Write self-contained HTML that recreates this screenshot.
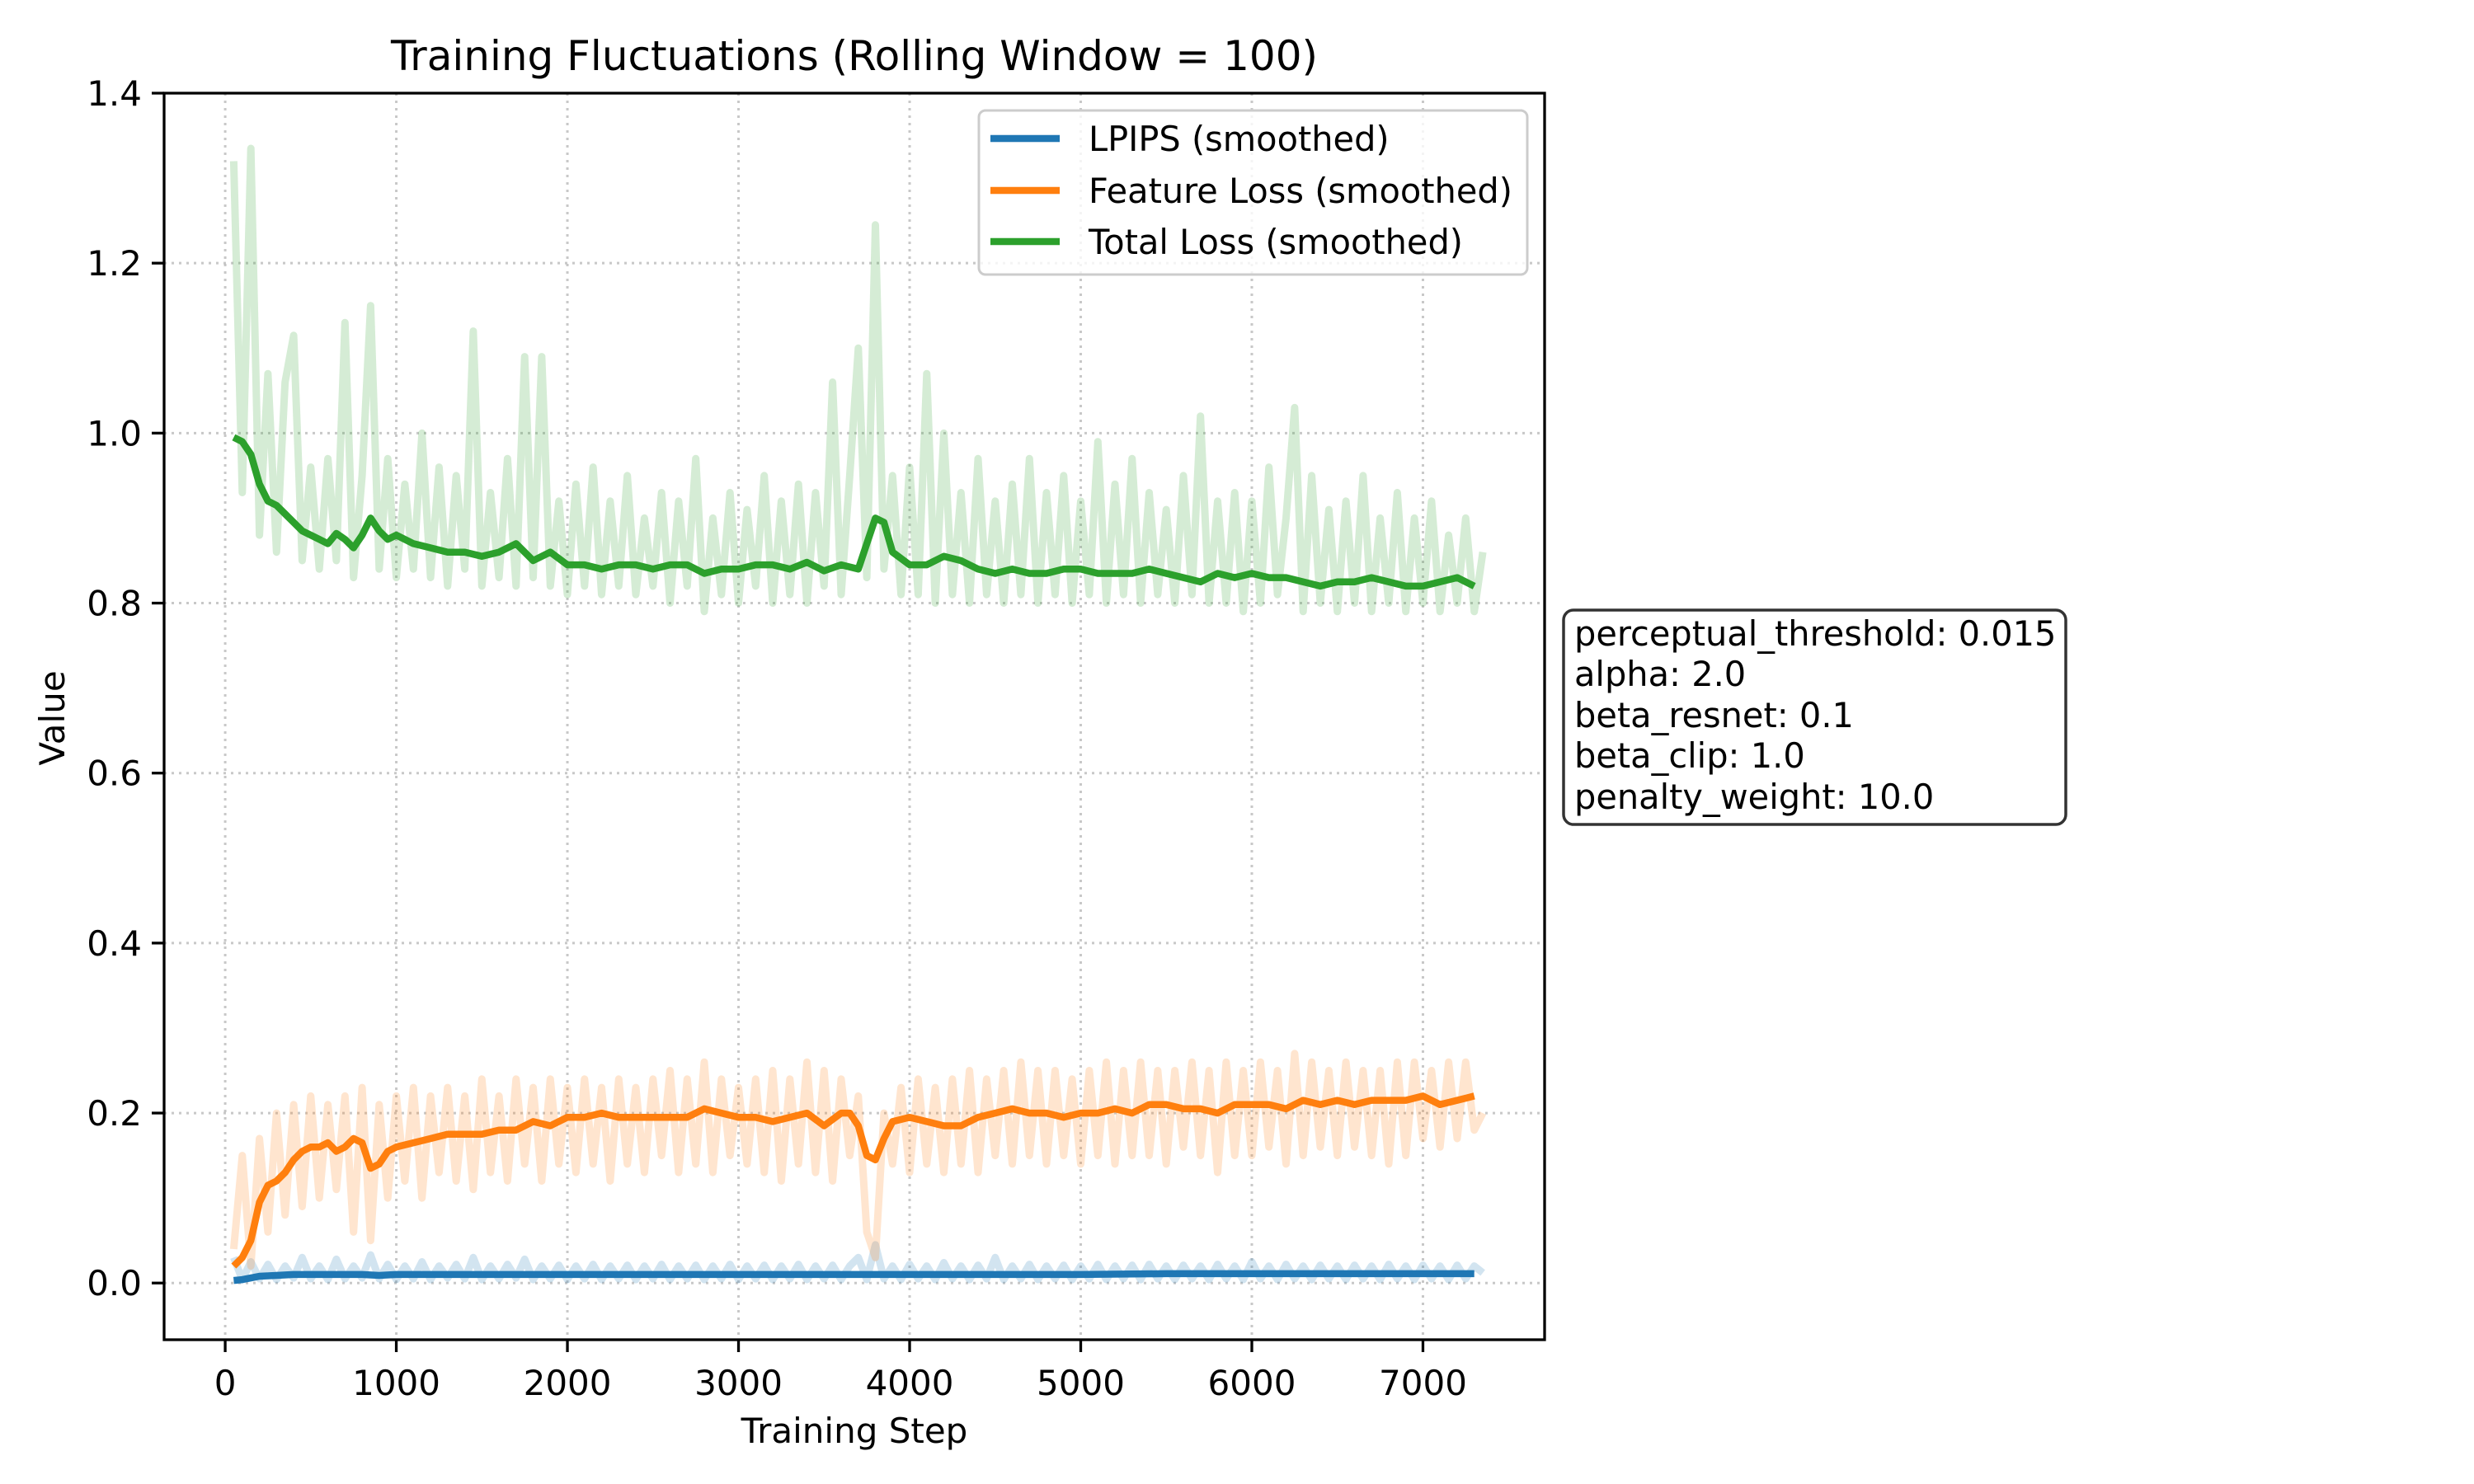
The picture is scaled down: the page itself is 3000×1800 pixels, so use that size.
<!DOCTYPE html>
<html><head><meta charset="utf-8"><style>
html,body{margin:0;padding:0;background:#fff}
svg{display:block;font-family:"DejaVu Sans","Liberation Sans",sans-serif}
</style></head><body>
<svg id="chart" width="3000" height="1800" viewBox="0 0 3000 1800" xmlns="http://www.w3.org/2000/svg">
<rect width="3000" height="1800" fill="#fff"/>
<g id="grid"></g>
<g id="plot"></g>
<g id="axes"></g>
<text x="1036" y="85" font-size="50" text-anchor="middle">Training Fluctuations (Rolling Window = 100)</text>
<text x="1036" y="1750" font-size="42" text-anchor="middle">Training Step</text>
<text transform="translate(78,871) rotate(-90)" font-size="42" text-anchor="middle">Value</text>
<g>
<rect x="1187" y="134" width="665" height="199" rx="8" fill="#fff" fill-opacity="0.8" stroke="#ccc" stroke-width="3"/>
<line x1="1201" y1="168" x2="1285" y2="168" stroke="#1f77b4" stroke-width="8.5"/>
<text x="1320" y="183" font-size="41.5">LPIPS (smoothed)</text>
<line x1="1201" y1="231" x2="1285" y2="231" stroke="#ff7f0e" stroke-width="8.5"/>
<text x="1320" y="246" font-size="41.5">Feature Loss (smoothed)</text>
<line x1="1201" y1="293" x2="1285" y2="293" stroke="#2ca02c" stroke-width="8.5"/>
<text x="1320" y="308" font-size="41.5">Total Loss (smoothed)</text>
</g>
<g>
<rect x="1896" y="740" width="609" height="260" rx="12" fill="#fff" stroke="#333" stroke-width="3.5"/>
<text font-size="41.5">
<tspan x="1909" y="783">perceptual_threshold: 0.015</tspan>
<tspan x="1909" y="832">alpha: 2.0</tspan>
<tspan x="1909" y="882">beta_resnet: 0.1</tspan>
<tspan x="1909" y="931">beta_clip: 1.0</tspan>
<tspan x="1909" y="981">penalty_weight: 10.0</tspan>
</text>
</g>
</svg>
<script>
const xTicks=[0,1000,2000,3000,4000,5000,6000,7000];
const yTicks=[0.0,0.2,0.4,0.6,0.8,1.0,1.2,1.4];
const yTickLabels=["0.0","0.2","0.4","0.6","0.8","1.0","1.2","1.4"];
const rawStart=50, rawStep=50;
const totalRaw=[1.32,0.93,1.335,0.88,1.07,0.86,1.06,1.115,0.85,0.96,
0.84,0.97,0.85,1.13,0.83,0.95,1.15,0.84,0.97,0.83,
0.94,0.84,1.0,0.83,0.96,0.82,0.95,0.84,1.12,0.82,
0.93,0.83,0.97,0.82,1.09,0.83,1.09,0.82,0.92,0.81,
0.94,0.82,0.96,0.81,0.92,0.82,0.95,0.81,0.9,0.82,
0.93,0.8,0.92,0.82,0.97,0.79,0.9,0.81,0.93,0.8,
0.91,0.82,0.95,0.8,0.92,0.81,0.94,0.8,0.93,0.82,
1.06,0.81,0.95,1.1,0.83,1.245,0.84,0.95,0.81,0.96,
0.81,1.07,0.8,1.0,0.81,0.93,0.8,0.97,0.81,0.92,
0.8,0.94,0.81,0.97,0.8,0.93,0.81,0.95,0.8,0.92,
0.81,0.99,0.8,0.94,0.81,0.97,0.8,0.93,0.81,0.91,
0.8,0.95,0.81,1.02,0.8,0.92,0.8,0.93,0.79,0.92,
0.8,0.96,0.81,0.9,1.03,0.79,0.95,0.8,0.91,0.79,
0.92,0.8,0.95,0.79,0.9,0.8,0.93,0.79,0.9,0.8,
0.92,0.79,0.88,0.8,0.9,0.79,0.86];
const featureRaw=[0.04,0.15,0.02,0.17,0.06,0.2,0.08,0.21,0.09,0.22,
0.1,0.21,0.11,0.22,0.06,0.23,0.05,0.21,0.1,0.22,
0.12,0.23,0.1,0.22,0.13,0.23,0.12,0.22,0.11,0.24,
0.13,0.22,0.12,0.24,0.14,0.23,0.12,0.24,0.14,0.23,
0.13,0.24,0.14,0.23,0.12,0.24,0.14,0.23,0.13,0.24,
0.15,0.25,0.13,0.24,0.14,0.26,0.13,0.24,0.15,0.23,
0.14,0.24,0.13,0.25,0.12,0.24,0.14,0.26,0.13,0.25,
0.12,0.24,0.15,0.22,0.06,0.03,0.2,0.14,0.23,0.13,
0.24,0.14,0.23,0.13,0.24,0.14,0.25,0.13,0.24,0.15,
0.25,0.14,0.26,0.15,0.25,0.14,0.25,0.15,0.24,0.14,
0.25,0.15,0.26,0.14,0.25,0.15,0.26,0.15,0.25,0.14,
0.25,0.16,0.26,0.15,0.25,0.13,0.26,0.15,0.25,0.15,
0.26,0.16,0.25,0.14,0.27,0.15,0.26,0.16,0.25,0.15,
0.26,0.16,0.25,0.15,0.25,0.14,0.26,0.15,0.26,0.17,
0.25,0.16,0.26,0.17,0.26,0.18,0.2];
const lpipsRaw=[0.03,0.004,0.025,0.005,0.022,0.004,0.02,0.006,0.03,0.005,
0.02,0.004,0.028,0.005,0.02,0.006,0.033,0.005,0.022,0.004,
0.02,0.005,0.025,0.004,0.02,0.006,0.022,0.005,0.03,0.004,
0.02,0.005,0.022,0.006,0.028,0.004,0.02,0.005,0.021,0.004,
0.02,0.005,0.022,0.004,0.02,0.005,0.021,0.004,0.02,0.005,
0.022,0.004,0.02,0.005,0.021,0.004,0.02,0.005,0.022,0.004,
0.02,0.005,0.021,0.004,0.02,0.005,0.022,0.004,0.02,0.005,
0.021,0.004,0.02,0.03,0.004,0.045,0.005,0.02,0.004,0.022,
0.005,0.02,0.004,0.024,0.005,0.02,0.004,0.021,0.005,0.03,
0.004,0.02,0.005,0.022,0.004,0.02,0.005,0.021,0.004,0.02,
0.005,0.022,0.004,0.02,0.005,0.021,0.004,0.022,0.005,0.02,
0.004,0.021,0.005,0.02,0.004,0.022,0.005,0.02,0.004,0.025,
0.005,0.02,0.004,0.022,0.005,0.02,0.004,0.021,0.005,0.02,
0.004,0.021,0.005,0.02,0.004,0.022,0.005,0.02,0.004,0.021,
0.005,0.02,0.004,0.021,0.005,0.02,0.012];
const totalSteps=[50,100,150,200,250,300,350,400,450,500,550,600,650,700,750,800,850,900,950,1000,1100,1200,1300,1400,1500,1600,1700,1800,1900,2000,2100,2200,2300,2400,2500,2600,2700,2800,2900,3000,3100,3200,3300,3400,3500,3600,3700,3750,3800,3850,3900,4000,4100,4200,4300,4400,4500,4600,4700,4800,4900,5000,5100,5200,5300,5400,5500,5600,5700,5800,5900,6000,6100,6200,6300,6400,6500,6600,6700,6800,6900,7000,7100,7200,7300];
const totalSmooth=[0.995,0.99,0.975,0.94,0.92,0.915,0.905,0.895,0.885,0.88,0.875,0.87,0.882,0.875,0.865,0.88,0.9,0.885,0.875,0.88,0.87,0.865,0.86,0.86,0.855,0.86,0.87,0.85,0.86,0.845,0.845,0.84,0.845,0.845,0.84,0.845,0.845,0.835,0.84,0.84,0.845,0.845,0.84,0.848,0.838,0.845,0.84,0.87,0.9,0.895,0.86,0.845,0.845,0.855,0.85,0.84,0.835,0.84,0.835,0.835,0.84,0.84,0.835,0.835,0.835,0.84,0.835,0.83,0.825,0.835,0.83,0.835,0.83,0.83,0.825,0.82,0.825,0.825,0.83,0.825,0.82,0.82,0.825,0.83,0.82];
const featureSteps=[50,100,150,200,250,300,350,400,450,500,550,600,650,700,750,800,850,900,950,1000,1100,1200,1300,1400,1500,1600,1700,1800,1900,2000,2100,2200,2300,2400,2500,2600,2700,2800,2900,3000,3100,3200,3300,3400,3500,3600,3650,3700,3750,3800,3850,3900,4000,4100,4200,4300,4400,4500,4600,4700,4800,4900,5000,5100,5200,5300,5400,5500,5600,5700,5800,5900,6000,6100,6200,6300,6400,6500,6600,6700,6800,6900,7000,7100,7200,7300];
const featureSmooth=[0.02,0.03,0.05,0.095,0.115,0.12,0.13,0.145,0.155,0.16,0.16,0.165,0.155,0.16,0.17,0.165,0.135,0.14,0.155,0.16,0.165,0.17,0.175,0.175,0.175,0.18,0.18,0.19,0.185,0.195,0.195,0.2,0.195,0.195,0.195,0.195,0.195,0.205,0.2,0.195,0.195,0.19,0.195,0.2,0.185,0.2,0.2,0.185,0.15,0.145,0.17,0.19,0.195,0.19,0.185,0.185,0.195,0.2,0.205,0.2,0.2,0.195,0.2,0.2,0.205,0.2,0.21,0.21,0.205,0.205,0.2,0.21,0.21,0.21,0.205,0.215,0.21,0.215,0.21,0.215,0.215,0.215,0.22,0.21,0.215,0.22];
const lpipsSteps=[50,100,150,200,300,400,600,800,900,1000,1500,2000,2500,3000,3500,3800,4000,4500,5000,5500,6000,6500,7000,7300];
const lpipsSmooth=[0.003,0.004,0.006,0.008,0.009,0.01,0.01,0.01,0.009,0.01,0.01,0.01,0.01,0.01,0.01,0.01,0.01,0.01,0.01,0.011,0.011,0.011,0.011,0.011];

const NS="http://www.w3.org/2000/svg";
const L=199,R=1873,T=113,B=1625;
const xMin=-357,xMax=7711,yMin=-0.0667,yMax=1.4;
function xs(v){return L+(v-xMin)/(xMax-xMin)*(R-L);}
function ys(v){return B-(v-yMin)/(yMax-yMin)*(B-T);}
function mk(tag,attrs,parent){const e=document.createElementNS(NS,tag);for(const k in attrs)e.setAttribute(k,attrs[k]);parent.appendChild(e);return e;}
const grid=document.getElementById('grid'),plot=document.getElementById('plot'),axes=document.getElementById('axes');
xTicks.forEach(function(t){
  const g=mk('line',{x1:xs(t),x2:xs(t),y1:T,y2:B,stroke:'#b0b0b0','stroke-width':3,'stroke-dasharray':'3,6','stroke-opacity':0.7},grid);
  
  
  const tk=mk('line',{x1:xs(t),x2:xs(t),y1:B,y2:B+15,stroke:'#000','stroke-width':3.3},axes);
  
  
  const lb=mk('text',{x:xs(t),y:B+67,'font-size':42,'text-anchor':'middle'},axes);
  lb.textContent=String(t);
  
  
});
yTicks.forEach(function(t,i){
  const g=mk('line',{x1:L,x2:R,y1:ys(t),y2:ys(t),stroke:'#b0b0b0','stroke-width':3,'stroke-dasharray':'3,6','stroke-opacity':0.7},grid);
  
  
  const tk=mk('line',{x1:L-15,x2:L,y1:ys(t),y2:ys(t),stroke:'#000','stroke-width':3.3},axes);
  
  
  const lb=mk('text',{x:L-27,y:ys(t)+15,'font-size':42,'text-anchor':'end'},axes);
  lb.textContent=yTickLabels[i];
  
  
});
const frame=mk('rect',{x:L,y:T,width:R-L,height:B-T,fill:'none',stroke:'#000','stroke-width':3.3},axes);


function rawPath(arr){return arr.map(function(v,i){return (i?'L':'M')+xs(rawStart+i*rawStep).toFixed(1)+' '+ys(v).toFixed(1);}).join('');}
function smPath(st,arr){return arr.map(function(v,i){return (i?'L':'M')+xs(st[i]).toFixed(1)+' '+ys(v).toFixed(1);}).join('');}
const r1=mk('path',{d:rawPath(lpipsRaw),fill:'none',stroke:'#1f77b4','stroke-opacity':0.2,'stroke-width':9,'stroke-linejoin':'round'},plot);


const r2=mk('path',{d:rawPath(featureRaw),fill:'none',stroke:'#ff7f0e','stroke-opacity':0.2,'stroke-width':9,'stroke-linejoin':'round'},plot);


const r3=mk('path',{d:rawPath(totalRaw),fill:'none',stroke:'#2ca02c','stroke-opacity':0.2,'stroke-width':9,'stroke-linejoin':'round'},plot);


const s1=mk('path',{d:smPath(lpipsSteps,lpipsSmooth),fill:'none',stroke:'#1f77b4','stroke-width':8.5,'stroke-linejoin':'round'},plot);


const s2=mk('path',{d:smPath(featureSteps,featureSmooth),fill:'none',stroke:'#ff7f0e','stroke-width':8.5,'stroke-linejoin':'round'},plot);


const s3=mk('path',{d:smPath(totalSteps,totalSmooth),fill:'none',stroke:'#2ca02c','stroke-width':8.5,'stroke-linejoin':'round'},plot);


</script>
</body></html>
